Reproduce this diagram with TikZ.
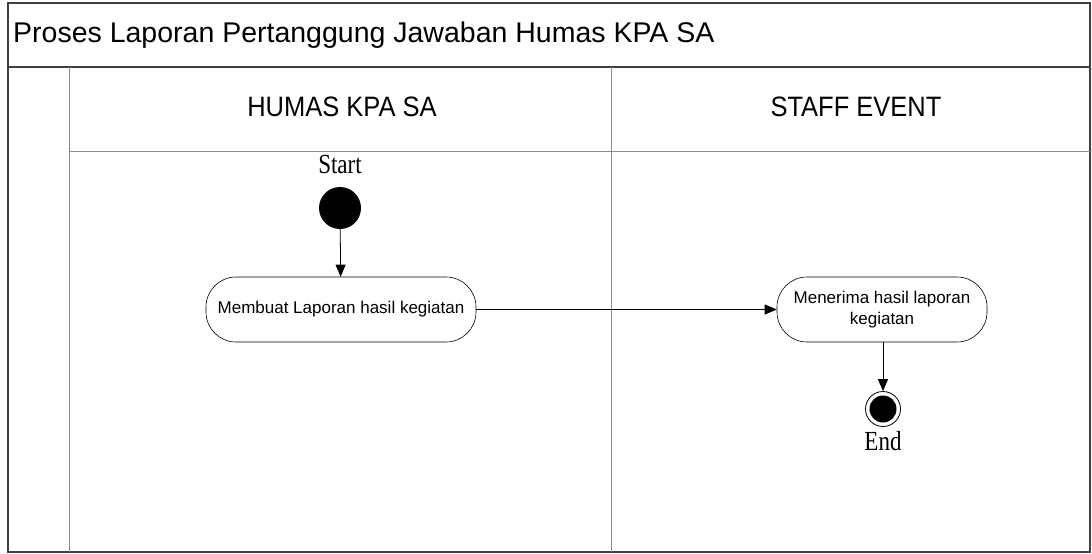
\documentclass[tikz,border=0pt]{standalone}
\usepackage{fontspec}
\setmainfont{Liberation Serif}
\setsansfont{Liberation Sans}
\usetikzlibrary{arrows.meta}
\definecolor{frame}{HTML}{404040}
\definecolor{lane}{HTML}{8C8C8C}
\tikzset{
  frameline/.style={draw=frame, line width=1.6pt},
  laneline/.style={draw=lane, line width=1pt},
  activity/.style={draw=black, line width=0.6pt, rounded corners=30pt, align=center,
    font=\sffamily\fontsize{17}{21}\selectfont, inner sep=0pt},
  flow/.style={draw=black, line width=0.8pt, -{Triangle[length=12pt,width=10pt]}},
  lbl/.style={font=\rmfamily\fontsize{23}{23}\selectfont, inner sep=0pt},
  hdr/.style={font=\sffamily\fontsize{25.5}{30}\selectfont, inner sep=0pt}
}
\begin{document}
\begin{tikzpicture}[x=1pt,y=-1pt]
\useasboundingbox (0,0) rectangle (1092,554);
% frame
\draw[frameline] (8,3) rectangle (1090,552);
\draw[frameline] (8,67) -- (1090,67);
\draw[laneline] (69,151) -- (1090,151);
\draw[laneline] (69,67) -- (69,552);
\draw[laneline] (611,67) -- (611,552);
% title and headers
\node[font=\sffamily\fontsize{28.5}{34}\selectfont, anchor=base west, inner sep=0pt] (title) at (13,42) {Proses Laporan Pertanggung Jawaban Humas KPA SA};
\node[hdr, anchor=base] (h1) at (342,116) {\scalebox{1}[1.1]{HUMAS KPA SA}};
\node[hdr, anchor=base] (h2) at (856,116) {\scalebox{1}[1.1]{STAFF EVENT}};
% start
\node[lbl, anchor=base] (startlbl) at (340,173) {\scalebox{1}[1.2]{Start}};
\node[circle, fill=black, minimum size=42pt, inner sep=0pt] (start) at (340,208) {};
% activities
\node[activity, minimum width=270pt, minimum height=65pt] (a1) at (341,309.5) {Membuat Laporan hasil kegiatan};
\node[activity, minimum width=210pt, minimum height=65pt] (a2) at (882,309.5) {Menerima hasil laporan\\kegiatan};
% end
\node[circle, draw=black, line width=0.8pt, minimum size=35pt, inner sep=0pt] (end) at (883,409) {};
\node[circle, fill=black, minimum size=27pt, inner sep=0pt] (endin) at (end.center) {};
\node[lbl, anchor=base] (endlbl) at (883,450) {\scalebox{1}[1.2]{End}};
% flows
\draw[flow] (start) -- (a1);
\draw[flow] (a1) -- (a2);
\draw[flow] (a2.south -| end) -- (end);
\end{tikzpicture}
\end{document}
